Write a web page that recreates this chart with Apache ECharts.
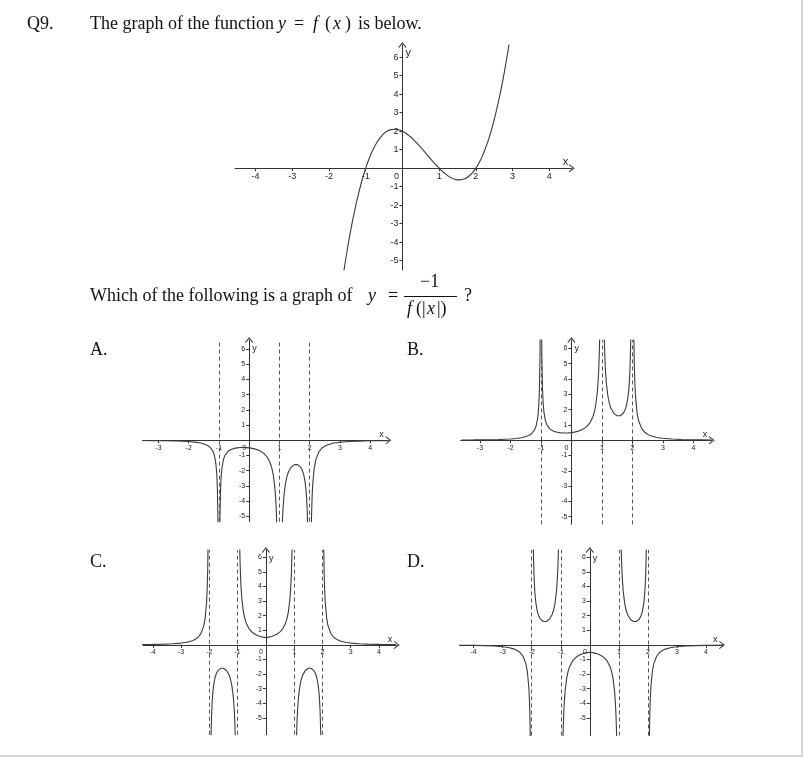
<!DOCTYPE html>
<html>
<head>
<meta charset="utf-8">
<script src="https://cdn.jsdelivr.net/npm/echarts@6/dist/echarts.min.js"></script>
<style>html,body{margin:0;padding:0;background:#fff}#c{width:803px;height:757px}</style>
</head>
<body>
<div id="c"></div>
<script>
// ---- main graph y = f(x) ----
const xsF = [-1.7,-1.6,-1.5,-1.4,-1.3,-1.2,-1.1,-1.0,-0.9,-0.8,-0.7,-0.6,-0.5,-0.4,-0.3,-0.2,-0.1,0,0.1,0.2,0.3,0.4,0.5,0.6,0.7,0.8,0.9,1.0,1.1,1.2,1.3,1.4,1.5,1.6,1.7,1.8,1.9,2.0,2.1,2.2,2.3,2.4,2.5,2.6,2.7,2.8,2.9,3.0];
const yF = [-6.99,-5.62,-4.38,-3.26,-2.28,-1.41,-0.65,0,0.55,1.01,1.38,1.66,1.88,2.02,2.09,2.11,2.08,2.0,1.88,1.73,1.55,1.34,1.13,0.90,0.66,0.43,0.21,0,-0.19,-0.35,-0.48,-0.58,-0.63,-0.62,-0.57,-0.45,-0.26,0,0.34,0.77,1.29,1.90,2.63,3.46,4.40,5.47,6.67,8.0];

// ---- options A and B (null = break at asymptote) ----
const xsAB = [-3.6,-3.2,-2.8,-2.4,-2.0,-1.8,-1.6,-1.4,-1.3,-1.2,-1.15,-1.1,-1.07,-1.05,-1.03,-1.02,-1,-0.98,-0.97,-0.95,-0.93,-0.9,-0.85,-0.8,-0.7,-0.6,-0.5,-0.4,-0.3,-0.2,-0.1,0,0.1,0.2,0.3,0.4,0.5,0.6,0.7,0.75,0.8,0.85,0.88,0.9,0.92,0.94,1,1.06,1.08,1.1,1.12,1.15,1.2,1.25,1.3,1.4,1.5,1.55,1.6,1.7,1.75,1.8,1.85,1.88,1.9,1.92,1.94,1.96,2,2.04,2.06,2.08,2.1,2.15,2.2,2.3,2.4,2.5,2.6,2.8,3.0,3.3,3.6,4.0,4.3,4.6];
const yA = [-0.015,-0.021,-0.030,-0.048,-0.083,-0.118,-0.178,-0.306,-0.439,-0.710,-0.984,-1.536,-2.248,-3.199,-5.42,-8.20,null,-8.47,-5.70,-3.477,-2.526,-1.815,-1.264,-0.992,-0.726,-0.601,-0.533,-0.496,-0.478,-0.473,-0.481,-0.5,-0.532,-0.579,-0.646,-0.744,-0.889,-1.116,-1.508,-1.829,-2.315,-3.134,-3.958,-4.785,-6.03,-8.10,null,-8.61,-6.53,-5.29,-4.47,-3.648,-2.841,-2.370,-2.070,-1.736,-1.600,-1.585,-1.603,-1.764,-1.939,-2.232,-2.752,-3.288,-3.831,-4.653,-6.03,-8.80,null,-7.91,-5.14,-3.758,-2.933,-1.840,-1.302,-0.777,-0.525,-0.381,-0.289,-0.183,-0.125,-0.078,-0.052,-0.033,-0.025,-0.019];
const yB = [0.015,0.021,0.030,0.048,0.083,0.118,0.178,0.306,0.439,0.710,0.984,1.536,2.248,3.199,5.42,8.20,null,8.47,5.70,3.477,2.526,1.815,1.264,0.992,0.726,0.601,0.533,0.496,0.478,0.473,0.481,0.5,0.532,0.579,0.646,0.744,0.889,1.116,1.508,1.829,2.315,3.134,3.958,4.785,6.03,8.10,null,8.61,6.53,5.29,4.47,3.648,2.841,2.370,2.070,1.736,1.600,1.585,1.603,1.764,1.939,2.232,2.752,3.288,3.831,4.653,6.03,8.80,null,7.91,5.14,3.758,2.933,1.840,1.302,0.777,0.525,0.381,0.289,0.183,0.125,0.078,0.052,0.033,0.025,0.019];

// ---- options C and D ----
const xsCD = [-4.6,-4.3,-4.0,-3.6,-3.3,-3.0,-2.8,-2.6,-2.5,-2.4,-2.3,-2.2,-2.15,-2.1,-2.08,-2.06,-2.04,-2,-1.96,-1.94,-1.92,-1.9,-1.88,-1.85,-1.8,-1.75,-1.7,-1.6,-1.55,-1.5,-1.4,-1.3,-1.25,-1.2,-1.15,-1.12,-1.1,-1.08,-1.06,-1,-0.94,-0.92,-0.9,-0.88,-0.85,-0.8,-0.75,-0.7,-0.6,-0.5,-0.4,-0.3,-0.2,-0.1,0,0.1,0.2,0.3,0.4,0.5,0.6,0.7,0.75,0.8,0.85,0.88,0.9,0.92,0.94,1,1.06,1.08,1.1,1.12,1.15,1.2,1.25,1.3,1.4,1.5,1.55,1.6,1.7,1.75,1.8,1.85,1.88,1.9,1.92,1.94,1.96,2,2.04,2.06,2.08,2.1,2.15,2.2,2.3,2.4,2.5,2.6,2.8,3.0,3.3,3.6,4.0,4.3,4.6];
const yC = [0.019,0.025,0.033,0.052,0.078,0.125,0.183,0.289,0.381,0.525,0.777,1.302,1.840,2.933,3.758,5.14,7.91,null,-8.80,-6.03,-4.653,-3.831,-3.288,-2.752,-2.232,-1.939,-1.764,-1.603,-1.585,-1.600,-1.736,-2.070,-2.370,-2.841,-3.648,-4.47,-5.29,-6.53,-8.61,null,8.10,6.03,4.785,3.958,3.134,2.315,1.829,1.508,1.116,0.889,0.744,0.646,0.579,0.532,0.5,0.532,0.579,0.646,0.744,0.889,1.116,1.508,1.829,2.315,3.134,3.958,4.785,6.03,8.10,null,-8.61,-6.53,-5.29,-4.47,-3.648,-2.841,-2.370,-2.070,-1.736,-1.600,-1.585,-1.603,-1.764,-1.939,-2.232,-2.752,-3.288,-3.831,-4.653,-6.03,-8.80,null,7.91,5.14,3.758,2.933,1.840,1.302,0.777,0.525,0.381,0.289,0.183,0.125,0.078,0.052,0.033,0.025,0.019];
const yD = [-0.019,-0.025,-0.033,-0.052,-0.078,-0.125,-0.183,-0.289,-0.381,-0.525,-0.777,-1.302,-1.840,-2.933,-3.758,-5.14,-7.91,null,8.80,6.03,4.653,3.831,3.288,2.752,2.232,1.939,1.764,1.603,1.585,1.600,1.736,2.070,2.370,2.841,3.648,4.47,5.29,6.53,8.61,null,-8.10,-6.03,-4.785,-3.958,-3.134,-2.315,-1.829,-1.508,-1.116,-0.889,-0.744,-0.646,-0.579,-0.532,-0.5,-0.532,-0.579,-0.646,-0.744,-0.889,-1.116,-1.508,-1.829,-2.315,-3.134,-3.958,-4.785,-6.03,-8.10,null,8.61,6.53,5.29,4.47,3.648,2.841,2.370,2.070,1.736,1.600,1.585,1.603,1.764,1.939,2.232,2.752,3.288,3.831,4.653,6.03,8.80,null,-7.91,-5.14,-3.758,-2.933,-1.840,-1.302,-0.777,-0.525,-0.381,-0.289,-0.183,-0.125,-0.078,-0.052,-0.033,-0.025,-0.019];

// asymptotes
const asymAB = [-1, 1, 2];
const asymCD = [-2, -1, 1, 2];

// tick labels
const xTicksMain = [-4,-3,-2,-1,0,1,2,3,4];
const yTicksMain = [-5,-4,-3,-2,-1,1,2,3,4,5,6];
const xTicksAB = [-3,-2,-1,0,1,2,3,4];
const xTicksCD = [-4,-3,-2,-1,0,1,2,3,4];
const yTicksOpt = [-5,-4,-3,-2,-1,1,2,3,4,5,6];

// panel layout (pixels) and axis ranges
const panels = [
  {left:235, top:45, width:336.7, height:225, xmin:-4.56, xmax:4.61, ymin:-5.5, ymax:6.66, xt:xTicksMain, yt:yTicksMain, fs:9, xs:xsF, ys:yF, asym:[], smooth:true},
  {left:143.3, top:340, width:245, height:181.6, xmin:-3.5, xmax:4.6, ymin:-5.35, ymax:6.6, xt:xTicksAB, yt:yTicksOpt, fs:7, xs:xsAB, ys:yA, asym:asymAB},
  {left:460.7, top:340, width:251, height:184.4, xmin:-3.63, xmax:4.6, ymin:-5.5, ymax:6.55, xt:xTicksAB, yt:yTicksOpt, fs:7, xs:xsAB, ys:yB, asym:asymAB},
  {left:143.3, top:550, width:253.4, height:184.7, xmin:-4.34, xmax:4.63, ymin:-6.15, ymax:6.5, xt:xTicksCD, yt:yTicksOpt, fs:7, xs:xsCD, ys:yC, asym:asymCD},
  {left:460, top:550, width:262, height:185.4, xmin:-4.47, xmax:4.55, ymin:-6.2, ymax:6.5, xt:xTicksCD, yt:yTicksOpt, fs:7, xs:xsCD, ys:yD, asym:asymCD}
];

const AXC = '#333';
const TXT = '#222';
const arrowPath = 'path://M0,0 L6,8 L5,9 L0,2.5 L-5,9 L-6,8 Z';

const grid = [], xAxis = [], yAxis = [], series = [];
panels.forEach((p, i) => {
  grid.push({left:p.left, top:p.top, width:p.width, height:p.height, containLabel:false});
  // place each axis on the other axis' zero through the axis offset
  const xOff = -((0 - p.ymin) / (p.ymax - p.ymin)) * p.height;
  const yOff = -((0 - p.xmin) / (p.xmax - p.xmin)) * p.width;
  xAxis.push({
    gridIndex:i, type:'value', min:p.xmin, max:p.xmax, position:'bottom', offset:xOff,
    axisLine:{onZero:false, lineStyle:{color:AXC, width:1}, symbol:['none', arrowPath], symbolSize:[8,7]},
    axisTick:{show:true, length:3, customValues:p.xt, lineStyle:{color:AXC}},
    axisLabel:{customValues:p.xt, fontSize:p.fs, color:TXT, margin:4, fontFamily:'Liberation Sans',
      formatter: v => v === 0 ? '{z|0}' : String(v),
      rich:{z:{fontSize:p.fs, color:TXT, fontFamily:'Liberation Sans', padding:[0, p.fs+3, 0, 0]}}},
    splitLine:{show:false},
    name:'x', nameLocation:'end', nameGap:-9,
    nameTextStyle:{fontSize:p.fs+2, color:TXT, fontFamily:'Liberation Sans', verticalAlign:'bottom', padding:[0,0,1,0]}
  });
  yAxis.push({
    gridIndex:i, type:'value', min:p.ymin, max:p.ymax, position:'left', offset:yOff,
    axisLine:{onZero:false, lineStyle:{color:AXC, width:1}, symbol:['none', arrowPath], symbolSize:[8,7]},
    axisTick:{show:true, length:3, customValues:p.yt, lineStyle:{color:AXC}},
    axisLabel:{customValues:p.yt, fontSize:p.fs, color:TXT, margin:4, fontFamily:'Liberation Sans'},
    splitLine:{show:false},
    name:'y', nameLocation:'end', nameGap:-13,
    nameTextStyle:{fontSize:p.fs+2, color:TXT, fontFamily:'Liberation Sans', align:'left', padding:[0,0,0,3]}
  });
  const data = p.xs.map((x, k) => [x, p.ys[k] === null ? '-' : p.ys[k]]);
  series.push({
    type:'line', xAxisIndex:i, yAxisIndex:i, data:data,
    showSymbol:false, smooth:p.smooth ? true : false, connectNulls:false, clip:true,
    lineStyle:{color:'#3a3a3a', width:1.1}, silent:true, animation:false,
    markLine: p.asym.length ? {
      silent:true, symbol:['none','none'], label:{show:false}, animation:false,
      lineStyle:{color:'#555', width:1, type:[4,3]},
      data: p.asym.map(v => ({xAxis:v}))
    } : undefined
  });
});

const serif = 'Liberation Serif, Times New Roman, serif';
const FS = 18;
const plain = FS + 'px ' + serif;
const ital = 'italic ' + FS + 'px ' + serif;
function t(txt, left, top, italic) {
  return {type:'text', left:left, top:top, style:{text:txt, font: italic ? ital : plain, fill:'#111'}};
}
const graphic = [
  t('Q9.', 27, 15),
  t('The graph of the function', 90, 15),
  t('y', 278, 15, true),
  t('=', 294, 15),
  t('f', 313, 15, true),
  t('(', 325, 15),
  t('x', 333, 15, true),
  t(')', 345, 15),
  t('is below.', 358, 15),
  t('Which of the following is a graph of', 90, 287),
  t('y', 368, 287, true),
  t('=', 388, 287),
  t('\u22121', 420, 273),
  {type:'line', shape:{x1:404, y1:296.5, x2:457, y2:296.5}, style:{stroke:'#111', lineWidth:1}},
  t('f', 407, 300, true),
  t('(|', 416, 300),
  t('x', 427, 300, true),
  t('|)', 437, 300),
  t('?', 464, 287),
  t('A.', 90, 341),
  t('B.', 407, 341),
  t('C.', 90, 553),
  t('D.', 407, 553),
  {type:'line', shape:{x1:802, y1:0, x2:802, y2:757}, style:{stroke:'#d6d6d6', lineWidth:2}},
  {type:'line', shape:{x1:0, y1:756, x2:803, y2:756}, style:{stroke:'#d6d6d6', lineWidth:2}}
];

const chart = echarts.init(document.getElementById('c'), null, {renderer:'canvas'});
chart.setOption({
  backgroundColor:'#fff',
  animation:false,
  grid:grid, xAxis:xAxis, yAxis:yAxis, series:series, graphic:graphic
});
</script>
</body>
</html>
